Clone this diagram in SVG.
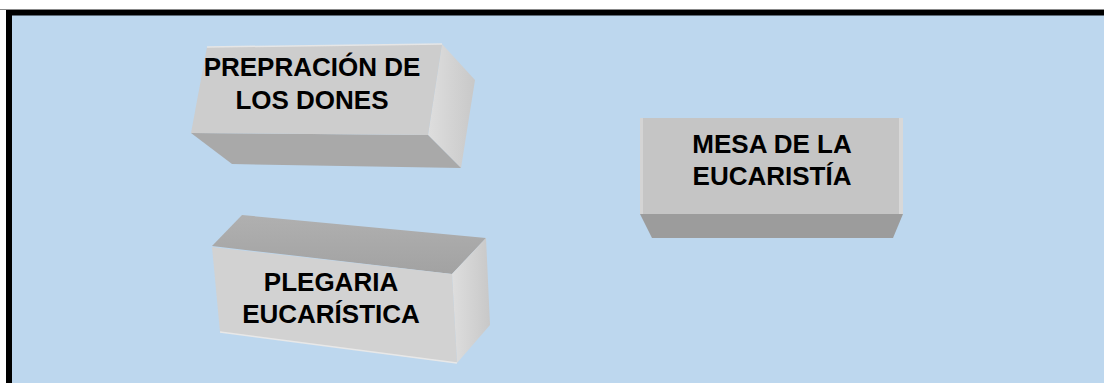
<svg xmlns="http://www.w3.org/2000/svg" width="1104" height="383" viewBox="0 0 1104 383">
<defs>
<style>
.t{font-family:"Liberation Sans",Arial,sans-serif;font-weight:bold;font-size:26px;fill:#000;text-anchor:middle}
</style>
<linearGradient id="g1" x1="0" y1="0" x2="1" y2="0"><stop offset="0" stop-color="#dedede"/><stop offset="1" stop-color="#c8c8c8"/></linearGradient>
<linearGradient id="g2" x1="0" y1="0" x2="0" y2="1"><stop offset="0" stop-color="#b0b0b0"/><stop offset="1" stop-color="#a2a2a2"/></linearGradient>
</defs>
<rect x="0" y="0" width="1104" height="383" fill="#ffffff"/>
<rect x="9" y="12.5" width="1110" height="390" fill="#bdd7ee" stroke="#000" stroke-width="6"/>
<line x1="0" y1="9.5" x2="1104" y2="9.5" stroke="#888" stroke-width="1"/>
<g id="connectors"></g>
<g id="node1">
<polygon points="442,44 475,80 461,168 428,135" fill="url(#g1)"/>
<polygon points="191,133 428,135 461,168 232,164" fill="#a9a9a9"/>
<polygon points="207,47 442,44 428,135 191,133" fill="#cdcdcd"/>
<polyline points="207,47 442,44" stroke="#e6e6e6" stroke-width="1.5" fill="none"/>
<text class="t" x="312" y="76">PREPRACIÓN DE</text>
<text class="t" x="312" y="109">LOS DONES</text>
</g>
<g id="node2">
<polygon points="212,246 242,215 486,238 452,274" fill="url(#g2)"/>
<polygon points="452,274 486,238 490,325 457,363" fill="url(#g1)"/>
<polygon points="212,247 452,274 457,363 220,332" fill="#d2d2d2"/>
<polyline points="220,332 457,363" stroke="#e8e8e8" stroke-width="1.5" fill="none"/>
<text class="t" x="331" y="291">PLEGARIA</text>
<text class="t" x="331" y="323">EUCARÍSTICA</text>
</g>
<g id="node3">
<polygon points="640,214 903,214 893,238 652,238" fill="#9c9c9c"/>
<rect x="640" y="118" width="263" height="96" fill="#c5c5c5"/>
<rect x="899" y="118" width="4" height="96" fill="#d8d8d8"/>
<rect x="640" y="118" width="3" height="96" fill="#d4d4d4"/>
<text class="t" x="772" y="153">MESA DE LA</text>
<text class="t" x="772" y="185">EUCARISTÍA</text>
</g>
</svg>
